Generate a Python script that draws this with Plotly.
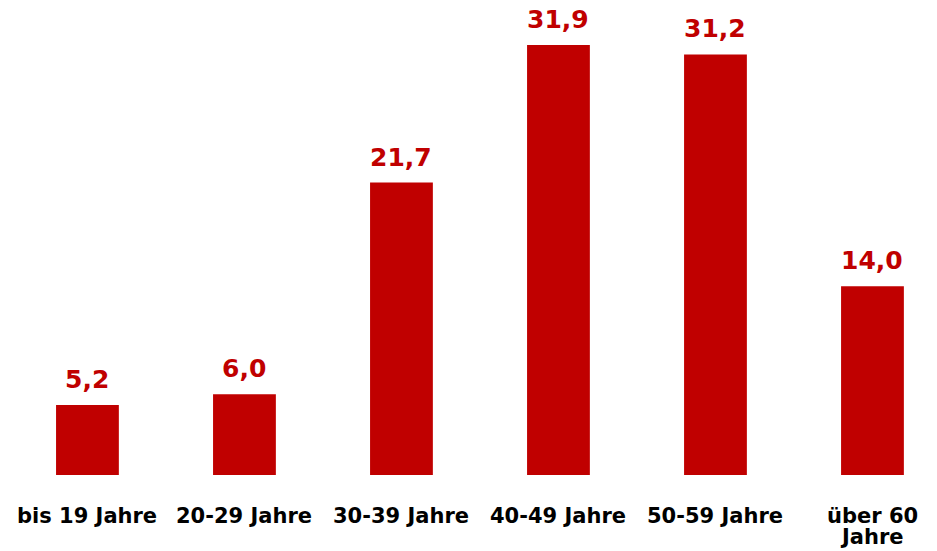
import plotly.graph_objects as go

# Age groups and their shares (percent)
categories = ["bis 19 Jahre", "20-29 Jahre", "30-39 Jahre", "40-49 Jahre", "50-59 Jahre", "über 60 Jahre"]
label_lines = [["bis 19 Jahre"], ["20-29 Jahre"], ["30-39 Jahre"], ["40-49 Jahre"], ["50-59 Jahre"], ["über 60", "Jahre"]]
values = [5.2, 6.0, 21.7, 31.9, 31.2, 14.0]

RED = "#C00000"
FONT = "DejaVu Sans"

fig = go.Figure(
    go.Bar(
        x=categories,
        y=values,
        width=0.4,
        marker=dict(color=RED, line=dict(width=0)),
        hoverinfo="skip",
    )
)

annotations = []
# value labels above the bars, German decimal comma
for cat, v in zip(categories, values):
    annotations.append(dict(
        x=cat, y=v, xref="x", yref="y",
        text="<b>" + f"{v:.1f}".replace(".", ",") + "</b>",
        showarrow=False, yanchor="bottom", yshift=10, borderpad=0,
        font=dict(family=FONT, size=25, color=RED),
    ))

# category labels below the baseline, one annotation per line
line_step = 20.5
for cat, lines in zip(categories, label_lines):
    for k, line in enumerate(lines):
        annotations.append(dict(
            x=cat, y=0, xref="x", yref="y",
            text="<b>" + line + "</b>",
            showarrow=False, yanchor="top", yshift=-28 - k * line_step, borderpad=0,
            font=dict(family=FONT, size=21, color="#000000"),
        ))

fig.update_layout(
    width=937, height=551,
    margin=dict(l=0, r=0, t=0, b=76),
    paper_bgcolor="white", plot_bgcolor="white",
    showlegend=False,
    xaxis=dict(range=[-0.557, 5.411], showticklabels=False, showgrid=False,
               zeroline=False, showline=False, ticks=""),
    yaxis=dict(range=[0, 35.24], visible=False, showgrid=False, zeroline=False),
    annotations=annotations,
)

fig.write_html("out.html")
